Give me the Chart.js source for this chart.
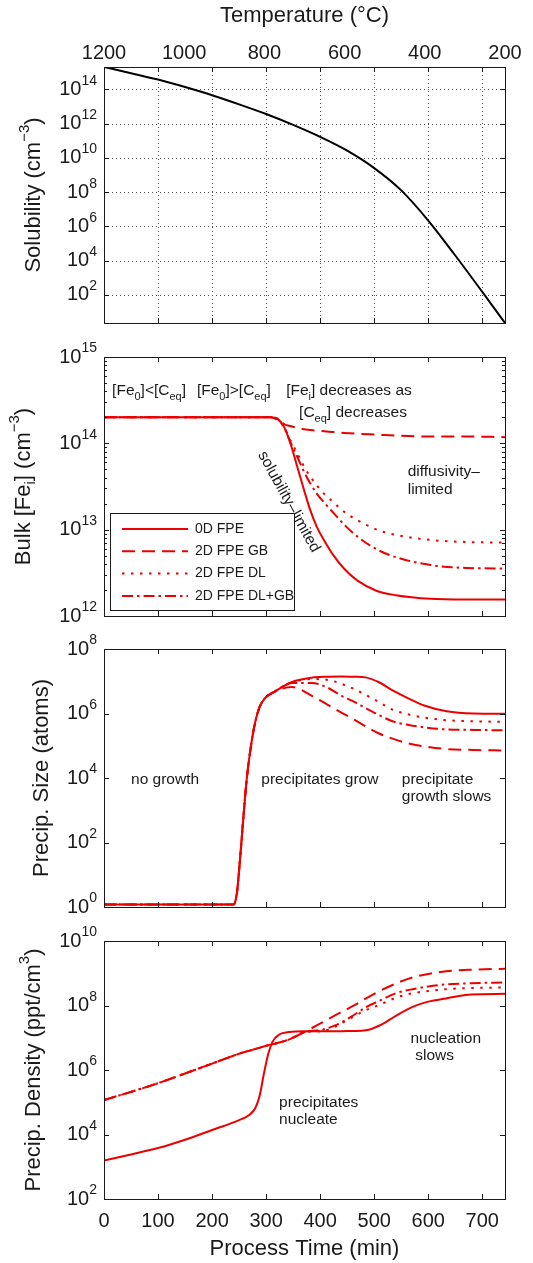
<!DOCTYPE html>
<html>
<head>
<meta charset="utf-8">
<script src="https://cdn.jsdelivr.net/npm/chart.js@4.4.1/dist/chart.umd.min.js"></script>
<style>
  body { margin: 0; background: #fff; }
  #page { position: relative; width: 533px; height: 1263px; background: #fff; }
  #page canvas { position: absolute; left: 0; top: 0; }
</style>
</head>
<body>
<div id="page">
  <canvas id="solChart" width="533" height="1263"></canvas>
  <canvas id="feChart" width="533" height="1263"></canvas>
  <canvas id="sizeChart" width="533" height="1263"></canvas>
  <canvas id="densChart" width="533" height="1263"></canvas>
</div>
<script>
const FONT = '"Liberation Sans", Arial, Helvetica, sans-serif';
const INK = '#1a1a1a';
const RED = 'rgb(236,0,0)';

const timeTicks = [0, 100, 200, 300, 400, 500, 600, 700];
const tempTicks = [1200, 1000, 800, 600, 400, 200];
const T_MAX = 742;

// solubility vs process time
const solTime = [0, 50, 100, 150, 200, 250, 300, 350, 400, 450, 500, 550, 600, 650, 700, 742];
const solubility = [2.0e15, 8.7e14, 3.7e14, 1.35e14, 4.5e13, 1.32e13, 3.6e12, 8.3e11, 1.66e11, 2.6e10, 2.5e9, 1.26e8, 2.2e6, 2.0e4, 1.5e2, 2.3];
const solExp = [2, 4, 6, 8, 10, 12, 14];

// bulk interstitial iron
const feTime = [0, 100, 200, 280, 308, 322, 334, 346, 358, 370, 382, 394, 408, 424, 444, 469, 505, 540, 604, 670, 742];
const fe0D = [2.0e14, 2.0e14, 2.0e14, 2.0e14, 2.0e14, 1.9e14, 1.51e14, 9.5e13, 5.25e13, 2.9e13, 1.66e13, 1.07e13, 7.4e12, 5.1e12, 3.55e12, 2.57e12, 1.95e12, 1.74e12, 1.58e12, 1.55e12, 1.55e12];
const feGB = [2.0e14, 2.0e14, 2.0e14, 2.0e14, 2.0e14, 1.86e14, 1.66e14, 1.58e14, 1.51e14, 1.46e14, 1.43e14, 1.4e14, 1.38e14, 1.35e14, 1.32e14, 1.29e14, 1.26e14, 1.23e14, 1.2e14, 1.2e14, 1.18e14];
const feDL = [2.0e14, 2.0e14, 2.0e14, 2.0e14, 2.0e14, 1.9e14, 1.51e14, 1.05e14, 7.6e13, 5.4e13, 4.1e13, 3.24e13, 2.57e13, 2.09e13, 1.62e13, 1.29e13, 1.0e13, 8.7e12, 7.6e12, 7.2e12, 7.1e12];
const feDLGB = [2.0e14, 2.0e14, 2.0e14, 2.0e14, 2.0e14, 1.9e14, 1.51e14, 1.0e14, 6.9e13, 4.7e13, 3.4e13, 2.6e13, 2.04e13, 1.58e13, 1.15e13, 8.3e12, 5.9e12, 4.8e12, 3.9e12, 3.6e12, 3.55e12];
const feExp = [12, 13, 14, 15];

// precipitate size
const sizeTime = [0, 100, 200, 240, 246, 252, 258, 264, 272, 280, 288, 298, 315, 348, 384, 414, 440, 464, 484, 509, 534, 564, 594, 634, 684, 742];
const size0D = [1.2, 1.2, 1.2, 1.2, 2.8, 35, 630, 8.9e3, 1.0e5, 5.6e5, 1.6e6, 3.0e6, 4.7e6, 9.5e6, 1.29e7, 1.38e7, 1.41e7, 1.38e7, 1.32e7, 9.3e6, 5.2e6, 2.9e6, 1.74e6, 1.17e6, 1.0e6, 9.8e5];
const sizeGB = [1.2, 1.2, 1.2, 1.2, 2.8, 35, 630, 8.9e3, 1.0e5, 5.6e5, 1.6e6, 3.0e6, 4.7e6, 6.6e6, 3.6e6, 1.86e6, 1.05e6, 6.3e5, 4.0e5, 2.4e5, 1.66e5, 1.17e5, 9.5e4, 7.9e4, 7.4e4, 7.1e4];
const sizeDL = [1.2, 1.2, 1.2, 1.2, 2.8, 35, 630, 8.9e3, 1.0e5, 5.6e5, 1.6e6, 3.0e6, 4.7e6, 9.1e6, 1.17e7, 1.1e7, 8.3e6, 5.6e6, 3.8e6, 2.24e6, 1.32e6, 9.3e5, 7.4e5, 6.2e5, 5.75e5, 5.5e5];
const sizeDLGB = [1.2, 1.2, 1.2, 1.2, 2.8, 35, 630, 8.9e3, 1.0e5, 5.6e5, 1.6e6, 3.0e6, 4.7e6, 8.9e6, 8.9e6, 6.3e6, 3.5e6, 2.24e6, 1.48e6, 8.9e5, 5.75e5, 4.4e5, 3.7e5, 3.2e5, 3.1e5, 3.0e5];
const sizeExp = [0, 2, 4, 6, 8];

// precipitate density
const densTime = [0, 50, 100, 150, 200, 250, 270, 280, 288, 296, 304, 312, 324, 343, 370, 404, 430, 460, 485, 510, 540, 571, 600, 633, 680, 742];
const dens0D = [1.55e3, 2.4e3, 3.8e3, 6.9e3, 1.38e4, 2.8e4, 4.2e4, 6.6e4, 1.58e5, 7.9e5, 3.2e6, 7.6e6, 1.26e7, 1.51e7, 1.58e7, 1.58e7, 1.58e7, 1.62e7, 1.7e7, 2.4e7, 4.8e7, 9.1e7, 1.32e8, 1.66e8, 2.2e8, 2.3e8];
const densGB = [1.17e5, 2.1e5, 3.9e5, 7.8e5, 1.58e6, 3.2e6, 4.0e6, 4.5e6, 4.9e6, 5.4e6, 5.9e6, 6.3e6, 7.1e6, 8.9e6, 1.48e7, 3.0e7, 5.2e7, 9.5e7, 1.66e8, 2.8e8, 4.8e8, 7.4e8, 9.5e8, 1.15e9, 1.29e9, 1.38e9];
const densDL = [1.17e5, 2.1e5, 3.9e5, 7.8e5, 1.58e6, 3.2e6, 4.0e6, 4.5e6, 4.9e6, 5.4e6, 5.9e6, 6.3e6, 7.1e6, 8.9e6, 1.48e7, 1.62e7, 2.3e7, 4.4e7, 7.2e7, 1.05e8, 1.74e8, 2.4e8, 2.8e8, 3.2e8, 3.5e8, 3.6e8];
const densDLGB = [1.17e5, 2.1e5, 3.9e5, 7.8e5, 1.58e6, 3.2e6, 4.0e6, 4.5e6, 4.9e6, 5.4e6, 5.9e6, 6.3e6, 7.1e6, 8.9e6, 1.48e7, 1.78e7, 2.5e7, 4.8e7, 8.9e7, 1.41e8, 2.4e8, 3.2e8, 3.9e8, 4.5e8, 4.9e8, 5.2e8];
const densExp = [2, 4, 6, 8, 10];

const seriesNames = ['0D FPE', '2D FPE GB', '2D FPE DL', '2D FPE DL+GB'];
const seriesDash = [[], [13, 7], [2.5, 6.5], [11, 4, 2.5, 4]];

// page geometry
const PAGE_W = 533, PAGE_H = 1263, PLOT_L = 104, PLOT_R = 505;
const TITLE_SIZE = 22;

const pts = (xs, ys) => xs.map((x, i) => ({ x, y: ys[i] }));

function drawRich(ctx, parts, x, y, size, align) {
  const fontOf = k => `${k ? Math.round(size * 0.7) : size}px ${FONT}`;
  let w = 0;
  parts.forEach(([t, k]) => { ctx.font = fontOf(k); w += ctx.measureText(t).width; });
  let cx = align === 'center' ? x - w / 2 : align === 'right' ? x - w : x;
  ctx.textAlign = 'left';
  parts.forEach(([t, k]) => {
    ctx.font = fontOf(k);
    const dy = k === 'sub' ? size * 0.32 : k === 'sup' ? -size * 0.42 : 0;
    ctx.fillText(t, cx, y + dy);
    cx += ctx.measureText(t).width;
  });
}

function matlabAxes(opts) {
  return {
    id: 'matlabAxes',
    beforeDatasetsDraw(chart) {
      if (!opts.grid) return;
      const { ctx, chartArea: a, scales: { x, y } } = chart;
      ctx.save();
      ctx.strokeStyle = '#505050';
      ctx.lineWidth = 1;
      ctx.setLineDash([1, 3]);
      ctx.beginPath();
      timeTicks.slice(1).forEach(t => {
        const px = Math.round(x.getPixelForValue(t)) + 0.5;
        ctx.moveTo(px, a.top); ctx.lineTo(px, a.bottom);
      });
      opts.yExp.forEach(e => {
        const py = Math.round(y.getPixelForValue(Math.pow(10, e))) + 0.5;
        ctx.moveTo(a.left, py); ctx.lineTo(a.right, py);
      });
      ctx.stroke();
      ctx.restore();
    },
    afterDatasetsDraw(chart) {
      const { ctx, chartArea: a, scales } = chart;
      const x = scales.x, y = scales.y;
      ctx.save();
      ctx.strokeStyle = INK;
      ctx.fillStyle = INK;
      ctx.lineWidth = 1;
      ctx.setLineDash([]);

      // ticks, pointing inward
      ctx.beginPath();
      timeTicks.forEach(t => {
        const px = Math.round(x.getPixelForValue(t)) + 0.5;
        ctx.moveTo(px, a.top); ctx.lineTo(px, a.top + 5);
        ctx.moveTo(px, a.bottom); ctx.lineTo(px, a.bottom - 5);
      });
      opts.yExp.forEach(e => {
        const py = Math.round(y.getPixelForValue(Math.pow(10, e))) + 0.5;
        ctx.moveTo(a.left, py); ctx.lineTo(a.left + 5, py);
        ctx.moveTo(a.right, py); ctx.lineTo(a.right - 5, py);
      });
      if (opts.minor) {
        for (let e = opts.yExp[0]; e < opts.yExp[opts.yExp.length - 1]; e++) {
          for (let m = 2; m <= 9; m++) {
            const py = Math.round(y.getPixelForValue(m * Math.pow(10, e))) + 0.5;
            ctx.moveTo(a.left, py); ctx.lineTo(a.left + 3, py);
            ctx.moveTo(a.right, py); ctx.lineTo(a.right - 3, py);
          }
        }
      }
      ctx.stroke();
      ctx.strokeRect(Math.round(a.left) + 0.5, Math.round(a.top) + 0.5,
        Math.round(a.right - a.left), Math.round(a.bottom - a.top));

      // y tick labels 10^n
      ctx.textBaseline = 'middle';
      opts.yExp.forEach(e => {
        drawRich(ctx, [['10', ''], [String(e), 'sup']], a.left - 7, y.getPixelForValue(Math.pow(10, e)), 20, 'right');
      });

      if (opts.xLabels) {
        ctx.font = `20px ${FONT}`;
        ctx.textAlign = 'center';
        timeTicks.forEach(t => ctx.fillText(String(t), x.getPixelForValue(t), a.bottom + 22));
        drawRich(ctx, [['Process Time (min)', '']], (a.left + a.right) / 2, a.bottom + 50, TITLE_SIZE, 'center');
      }

      if (opts.topAxis) {
        const temp = scales.temp;
        ctx.font = `20px ${FONT}`;
        ctx.textAlign = 'center';
        tempTicks.forEach(v => ctx.fillText(String(v), temp.getPixelForValue(v), a.top - 14));
        drawRich(ctx, [['Temperature (°C)', '']], (a.left + a.right) / 2, a.top - 51, TITLE_SIZE, 'center');
      }

      ctx.save();
      ctx.translate(opts.yTitleX, (a.top + a.bottom) / 2);
      ctx.rotate(-Math.PI / 2);
      drawRich(ctx, opts.yTitle, 0, 0, TITLE_SIZE, 'center');
      ctx.restore();

      (opts.notes || []).forEach(n => {
        const px = x.getPixelForValue(n.t), py = y.getPixelForValue(n.v);
        if (n.angle) {
          ctx.save();
          ctx.translate(px, py);
          ctx.rotate(n.angle * Math.PI / 180);
          ctx.textBaseline = 'middle';
          drawRich(ctx, n.parts, 0, 0, 15.5, 'center');
          ctx.restore();
        } else {
          ctx.textBaseline = 'alphabetic';
          drawRich(ctx, n.parts, px, py, 15.5, 'left');
        }
      });

      if (opts.legend) {
        const bx = 110, by = 513, bw = 184, bh = 97;
        ctx.fillStyle = '#fff';
        ctx.fillRect(bx, by, bw, bh);
        ctx.strokeRect(bx + 0.5, by + 0.5, bw, bh);
        chart.data.datasets.forEach((ds, i) => {
          const ry = by + 16 + i * 22.3;
          ctx.strokeStyle = ds.borderColor;
          ctx.lineWidth = ds.borderWidth;
          ctx.setLineDash(ds.borderDash);
          ctx.beginPath();
          ctx.moveTo(122, ry); ctx.lineTo(188, ry);
          ctx.stroke();
          ctx.setLineDash([]);
          ctx.fillStyle = INK;
          ctx.font = `14px ${FONT}`;
          ctx.textAlign = 'left';
          ctx.textBaseline = 'middle';
          ctx.fillText(ds.label, 195, ry);
        });
      }
      ctx.restore();
    }
  };
}

function baseOptions(top, bottom, yMin, yMax, extraScales) {
  return {
    responsive: false,
    animation: false,
    devicePixelRatio: 1,
    events: [],
    layout: { padding: { left: PLOT_L, right: PAGE_W - PLOT_R, top: top, bottom: PAGE_H - bottom } },
    plugins: { legend: { display: false }, tooltip: { enabled: false } },
    scales: Object.assign({
      x: { type: 'linear', display: false, min: 0, max: T_MAX },
      y: { type: 'logarithmic', display: false, min: yMin, max: yMax }
    }, extraScales || {})
  };
}

function fpeDatasets(time, series) {
  return series.map((vals, i) => ({
    label: seriesNames[i],
    data: pts(time, vals),
    borderColor: RED,
    borderWidth: 2,
    borderDash: seriesDash[i],
    borderCapStyle: 'butt',
    pointRadius: 0,
    cubicInterpolationMode: 'monotone',
    fill: false
  }));
}

new Chart(document.getElementById('solChart'), {
  type: 'line',
  data: {
    datasets: [{
      label: 'Solubility',
      data: pts(solTime, solubility),
      borderColor: '#000',
      borderWidth: 2,
      pointRadius: 0,
      cubicInterpolationMode: 'monotone',
      fill: false
    }]
  },
  options: baseOptions(67, 323, 2.3, 2.0e15, {
    temp: { type: 'linear', display: false, position: 'top', reverse: true, min: 200, max: 1200 }
  }),
  plugins: [matlabAxes({
    yExp: solExp, grid: true, topAxis: true, yTitleX: 34,
    yTitle: [['Solubility (cm', ''], ['−3', 'sup'], [')', '']]
  })]
});

new Chart(document.getElementById('feChart'), {
  type: 'line',
  data: { datasets: fpeDatasets(feTime, [fe0D, feGB, feDL, feDLGB]) },
  options: baseOptions(357, 616, 1e12, 1e15),
  plugins: [matlabAxes({
    yExp: feExp, minor: true, legend: true, yTitleX: 24,
    yTitle: [['Bulk [Fe', ''], ['i', 'sub'], ['] (cm', ''], ['−3', 'sup'], [')', '']],
    notes: [
      { t: 15, v: 3.66e14, parts: [['[Fe', ''], ['0', 'sub'], [']<[C', ''], ['eq', 'sub'], [']', '']] },
      { t: 172, v: 3.66e14, parts: [['[Fe', ''], ['0', 'sub'], [']>[C', ''], ['eq', 'sub'], [']', '']] },
      { t: 337, v: 3.66e14, parts: [['[Fe', ''], ['i', 'sub'], ['] decreases as', '']] },
      { t: 361, v: 2.04e14, parts: [['[C', ''], ['eq', 'sub'], ['] decreases', '']] },
      { t: 562, v: 4.2e13, parts: [['diffusivity–', '']] },
      { t: 562, v: 2.6e13, parts: [['limited', '']] },
      { t: 342, v: 2.1e13, angle: 61, parts: [['solubility–limited', '']] }
    ]
  })]
});

new Chart(document.getElementById('sizeChart'), {
  type: 'line',
  data: { datasets: fpeDatasets(sizeTime, [size0D, sizeGB, sizeDL, sizeDLGB]) },
  options: baseOptions(649, 907, 1, 1e8),
  plugins: [matlabAxes({
    yExp: sizeExp, yTitleX: 42,
    yTitle: [['Precip. Size (atoms)', '']],
    notes: [
      { t: 50, v: 6.5e3, parts: [['no growth', '']] },
      { t: 291, v: 6.5e3, parts: [['precipitates grow', '']] },
      { t: 551, v: 6.5e3, parts: [['precipitate', '']] },
      { t: 551, v: 1.95e3, parts: [['growth slows', '']] }
    ]
  })]
});

new Chart(document.getElementById('densChart'), {
  type: 'line',
  data: { datasets: fpeDatasets(densTime, [dens0D, densGB, densDL, densDLGB]) },
  options: baseOptions(941, 1199, 1e2, 1e10),
  plugins: [matlabAxes({
    yExp: densExp, xLabels: true, yTitleX: 34,
    yTitle: [['Precip. Density (ppt/cm', ''], ['3', 'sup'], [')', '']],
    notes: [
      { t: 324, v: 6.9e4, parts: [['precipitates', '']] },
      { t: 324, v: 2.1e4, parts: [['nucleate', '']] },
      { t: 567, v: 6.8e6, parts: [['nucleation', '']] },
      { t: 576, v: 2.1e6, parts: [['slows', '']] }
    ]
  })]
});
</script>
</body>
</html>
